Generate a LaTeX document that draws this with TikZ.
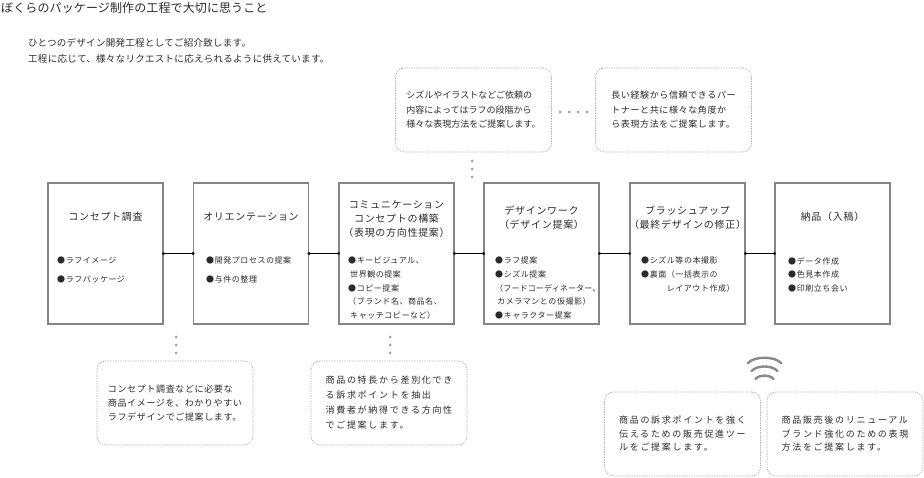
\documentclass[tikz,border=0pt]{standalone}
\usepackage{fontspec}
\setmainfont{Noto Sans CJK JP}
\definecolor{ink}{HTML}{2A2A2A}
\definecolor{frame}{HTML}{858585}
\definecolor{notec}{HTML}{B4B4B4}
\definecolor{dotc}{HTML}{A0A0A0}
\definecolor{wavec}{HTML}{8A8A8A}
\tikzset{
  mainbox/.style={draw=frame, line width=1.1pt, minimum width=115pt, minimum height=141pt, inner sep=0pt},
  notebox/.style={draw=notec, line width=0.7pt, dash pattern=on 1.4pt off 1.1pt, rounded corners=9pt,
    minimum width=156pt, minimum height=84pt, align=left, text=ink, inner sep=0pt},
  ttl/.style={align=center, text=ink, inner sep=0pt, font={\fontsize{10}{14}\addfontfeatures{LetterSpace=7}}},
  items/.style={align=left, text=ink, inner sep=0pt, anchor=north west, font={\fontsize{8}{13.6}\addfontfeatures{LetterSpace=7}}},
  link/.style={line width=0.8pt, draw=black},
  enddot/.style={fill=black},
  grey dot/.style={fill=dotc},
  wave/.style={draw=wavec, line width=2.4pt, line cap=round},
}
\begin{document}
\begin{tikzpicture}[x=1pt,y=-1pt]
\useasboundingbox (0,0) rectangle (924,478);

% header
\node[anchor=west, inner sep=0pt, text=ink, font={\fontsize{12}{14}\addfontfeatures{LetterSpace=1}}] (head) at (1,7.5)
  {ぼくらのパッケージ制作の工程で大切に思うこと};
\node[anchor=north west, inner sep=0pt, text=ink, align=left,
  font={\fontsize{9.5}{16}\addfontfeatures{LetterSpace=3}}] (sub) at (28,38.5)
  {ひとつのデザイン開発工程としてご紹介致します。\\工程に応じて、様々なリクエストに応えられるように供えています。};

% main boxes
\node[mainbox] (b1) at (105.5,253.5) {};
\node[mainbox] (b2) at (251,253.5) {};
\node[mainbox] (b3) at (396.5,253.5) {};
\node[mainbox] (b4) at (541.5,253.5) {};
\node[mainbox] (b5) at (687.5,253.5) {};
\node[mainbox] (b6) at (832.5,253.5) {};

% titles
\node[ttl] (t1) at (105.5,217) {コンセプト調査};
\node[ttl] (t2) at (251,217) {オリエンテーション};
\node[ttl, anchor=north] (t3) at (396.5,200) {コミュニケーション\\コンセプトの構築\\（表現の方向性提案）};
\node[ttl, anchor=north] (t4) at (541.5,206) {デザインワーク\\（デザイン提案）};
\node[ttl, anchor=north] (t5) at (687.5,206) {ブラッシュアップ\\（最終デザインの修正）};
\node[ttl] (t6) at (832.5,217) {納品（入稿）};

% items
\node[items, font={\fontsize{8}{19}\addfontfeatures{LetterSpace=7}}] (i1) at (57,257) {●ラフイメージ\\●ラフパッケージ};
\node[items, font={\fontsize{8}{19}\addfontfeatures{LetterSpace=7}}] (i2) at (206,257) {●開発プロセスの提案\\●与件の整理};
\node[items] (i3) at (348,257) {●キービジュアル、\\\hspace*{2pt}世界観の提案\\●コピー提案\\（ブランド名、商品名、\\\hspace*{2pt}キャッチコピーなど）};
\node[items] (i4) at (495,257) {●ラフ提案\\●シズル提案\\{\addfontfeatures{LetterSpace=2}（フードコーディネーター、}\\\hspace*{2pt}カメラマンとの仮撮影）\\●キャラクター提案};
\node[items] (i5) at (641,257) {●シズル等の本撮影\\●裏面（一括表示の\\\hspace*{3.2em}レイアウト作成）};
\node[items] (i6) at (788,257) {●データ作成\\●色見本作成\\●印刷立ち会い};

% connectors
\foreach \a/\b in {b1/b2,b2/b3,b3/b4,b4/b5,b5/b6}{
  \draw[link] (\a.east) -- (\b.west);
  \fill[enddot] (\a.east) circle (1.6pt);
  \fill[enddot] (\b.west) circle (1.6pt);
}

% notes
\node[notebox, font={\fontsize{9}{14.5}\addfontfeatures{LetterSpace=0}}] (n1) at (473.5,110)
  {シズルやイラストなどご依頼の\\内容によってはラフの段階から\\様々な表現方法をご提案します。};
\node[notebox, font={\fontsize{9}{14.5}\addfontfeatures{LetterSpace=7}}] (n2) at (673.5,110)
  {長い経験から信頼できるパー\\トナーと共に様々な角度か\\ら表現方法をご提案します。};
\node[notebox, font={\fontsize{9}{14}\addfontfeatures{LetterSpace=7}}] (n3) at (175,403)
  {コンセプト調査などに必要な\\商品イメージを、わかりやすい\\ラフデザインでご提案します。};
\node[notebox, font={\fontsize{9}{15}\addfontfeatures{LetterSpace=19}}] (n4) at (389,403)
  {商品の特長から差別化でき\\る訴求ポイントを抽出\\消費者が納得できる方向性\\でご提案します。};
\node[notebox, font={\fontsize{9}{13.5}\addfontfeatures{LetterSpace=19}}] (n5) at (682.5,434)
  {商品の訴求ポイントを強く\\伝えるための販売促進ツー\\ルをご提案します。};
\node[notebox, font={\fontsize{9}{13.5}\addfontfeatures{LetterSpace=19}}] (n6) at (845,434)
  {商品販売後のリニューアル\\ブランド強化のための表現\\方法をご提案します。};

% dotted leaders
\foreach \x in {560,569,578,587} \fill[grey dot] (\x,112) circle (1.5pt);
\foreach \y in {161,169,177} \fill[grey dot] (472,\y) circle (1.5pt);
\foreach \y in {337,345,353} {\fill[grey dot] (176,\y) circle (1.5pt); \fill[grey dot] (390,\y) circle (1.5pt);}

% wave symbol
\draw[wave] (748,363) .. controls (754,356) and (775,356) .. (781,363);
\draw[wave] (751.5,371) .. controls (757,365) and (772,365) .. (777.5,371);
\draw[wave] (755.5,379) .. controls (759,374.5) and (770,374.5) .. (773.5,379);
\end{tikzpicture}
\end{document}
